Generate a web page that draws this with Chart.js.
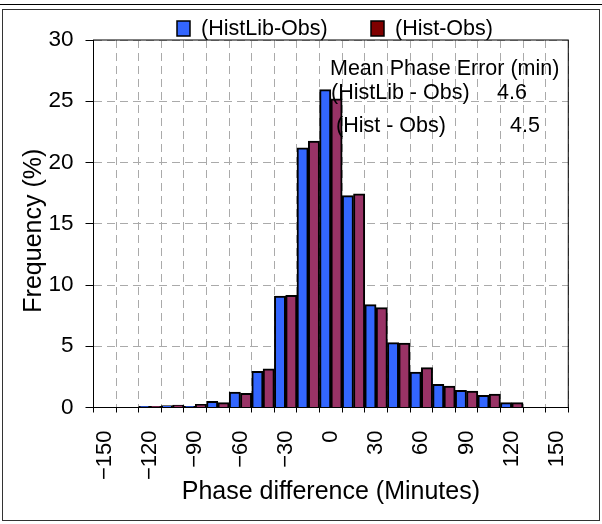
<!DOCTYPE html>
<html>
<head>
<meta charset="utf-8">
<script src="https://cdn.jsdelivr.net/npm/chart.js@4/dist/chart.umd.min.js"></script>
<style>
  html, body { margin: 0; padding: 0; background: #fff; }
  #wrap { width: 602px; height: 524px; }
</style>
</head>
<body>
<div id="wrap"><canvas id="histChart" width="602" height="524"></canvas></div>
<script>
// phase difference bins (minutes)
var categorias = ['-150', '-135', '-120', '-105', '-90', '-75', '-60', '-45', '-30', '-15', '0',
                  '15', '30', '45', '60', '75', '90', '105', '120', '135', '150'];
var etiquetasX = ['-150', '-120', '-90', '-60', '-30', '0', '30', '60', '90', '120', '150'];
// frequency (%)
var histLibObs = [null, null, 0.1, 0.15, 0.1, 0.5, 1.25, 2.95, 9.1, 21.2, 25.95,
                  17.3, 8.4, 5.3, 2.9, 1.9, 1.4, 1.0, 0.4, null, null];
var histObs = [null, null, 0.1, 0.2, 0.25, 0.4, 1.15, 3.15, 9.15, 21.75, 25.2,
               17.45, 8.15, 5.25, 3.25, 1.75, 1.35, 1.1, 0.4, null, null];
var nombresSeries = ['(HistLib-Obs)', '(Hist-Obs)'];
var textoError = ['Mean Phase Error (min)', '(HistLib - Obs)', '(Hist - Obs)'];
var valoresError = ['4.6', '4.5'];

var FUENTE = '"Liberation Sans", Arial, sans-serif';

var marcoPlugin = {
    id: 'marco',
    beforeDraw: function (chart) {
        var ctx = chart.ctx;
        ctx.save();
        ctx.fillStyle = '#fff';
        ctx.fillRect(0, 0, chart.width, chart.height);
        ctx.strokeStyle = '#000';
        ctx.lineWidth = 1;
        ctx.beginPath();
        ctx.moveTo(0, 4.5); ctx.lineTo(chart.width, 4.5);
        ctx.stroke();
        ctx.strokeStyle = '#333';
        ctx.strokeRect(2.5, 9.5, chart.width - 5, chart.height - 13);
        ctx.restore();
    },
    afterDraw: function (chart) {
        var ctx = chart.ctx;
        var a = chart.chartArea;
        ctx.save();
        // marco del area de trazado
        ctx.strokeStyle = '#000';
        ctx.lineWidth = 1;
        ctx.strokeRect(a.left, a.top, a.right - a.left, a.bottom - a.top);

        // leyenda
        ctx.font = '21.5px ' + FUENTE;
        ctx.textBaseline = 'middle';
        var leyX = [177, 371];
        for (var i = 0; i < 2; i++) {
            var ds = chart.data.datasets[i];
            ctx.fillStyle = i == 0 ? ds.backgroundColor : '#800000';
            ctx.fillRect(leyX[i], 21, 13, 15);
            ctx.strokeStyle = '#000';
            ctx.lineWidth = 1.5;
            ctx.strokeRect(leyX[i], 21, 13, 15);
            ctx.fillStyle = '#000';
            ctx.fillText(ds.label, leyX[i] + 24, 29);
        }

        // error medio de fase
        ctx.fillStyle = '#000';
        ctx.textAlign = 'left';
        ctx.fillText(textoError[0], 330, 69);
        ctx.fillText(textoError[1], 331, 93);
        ctx.fillText(textoError[2], 336, 126);
        ctx.fillText(valoresError[0], 497, 93);
        ctx.fillText(valoresError[1], 510, 126);
        ctx.restore();
    }
};

var ctx = document.getElementById('histChart').getContext('2d');
var chart = new Chart(ctx, {
    type: 'bar',
    data: {
        labels: categorias,
        datasets: [{
            label: nombresSeries[0],
            data: histLibObs,
            backgroundColor: '#3366FF',
            borderColor: '#000',
            borderWidth: 2,
            categoryPercentage: 1,
            barPercentage: 1
        }, {
            label: nombresSeries[1],
            data: histObs,
            backgroundColor: '#993366',
            borderColor: '#000',
            borderWidth: 2,
            categoryPercentage: 1,
            barPercentage: 1
        }]
    },
    options: {
        responsive: false,
        animation: false,
        layout: { padding: { left: 0, top: 40, right: 26.5, bottom: 0 } },
        plugins: {
            legend: { display: false },
            tooltip: { enabled: false }
        },
        scales: {
            x: {
                afterFit: function (s) { s.height = 116.5; },
                grid: {
                    offset: true,
                    color: '#aaa',
                    lineWidth: 1,
                    tickLength: 5,
                    tickColor: '#000'
                },
                border: { display: true, color: '#000', width: 1, dash: [8, 5] },
                ticks: {
                    autoSkip: false,
                    maxRotation: 90,
                    minRotation: 90,
                    padding: 18,
                    color: '#000',
                    font: { family: FUENTE, size: 22 },
                    callback: function (value) {
                        var l = this.getLabelForValue(value);
                        return etiquetasX.indexOf(l) >= 0 ? l.replace('-', '\u2212') : '';
                    }
                },
                title: {
                    display: true,
                    text: 'Phase difference (Minutes)',
                    color: '#000',
                    font: { family: FUENTE, size: 25 },
                    padding: { top: 0, bottom: 17 }
                }
            },
            y: {
                min: 0,
                max: 30,
                afterFit: function (s) { s.width = 93.5; },
                grid: {
                    color: '#aaa',
                    lineWidth: 1,
                    tickLength: 8,
                    tickColor: '#000'
                },
                border: { display: true, color: '#000', width: 1, dash: [8, 5] },
                ticks: {
                    stepSize: 5,
                    padding: 12,
                    color: '#000',
                    font: { family: FUENTE, size: 22.5 }
                },
                title: {
                    display: true,
                    text: 'Frequency (%)  ',
                    color: '#000',
                    font: { family: FUENTE, size: 25 },
                    padding: { top: 19, bottom: 0 }
                }
            }
        }
    },
    plugins: [marcoPlugin]
});
</script>
</body>
</html>
